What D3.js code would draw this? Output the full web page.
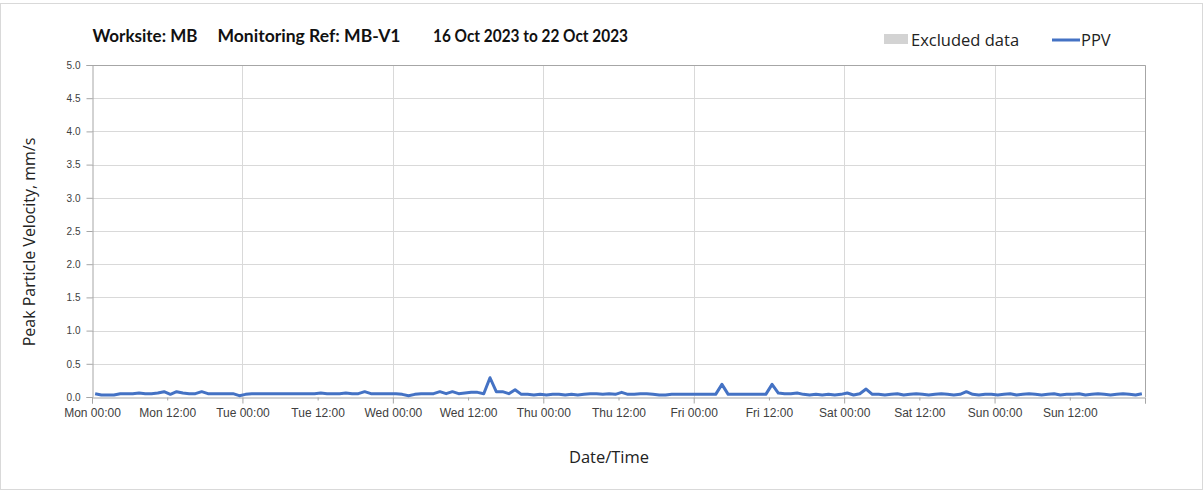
<!DOCTYPE html>
<html>
<head>
<meta charset="utf-8">
<script src="https://cdn.jsdelivr.net/npm/d3@7"></script>
<style>
  body { margin: 0; background: #fff; }
  svg { display: block; font-family: "Open Sans", sans-serif; }
</style>
</head>
<body>
<script>
// hourly PPV readings, stamped at HH:30, Mon 16 Oct 2023 00:30 onwards
let start = new Date(2023, 9, 16, 0, 30)
let ppvMon = [0.05, 0.03, 0.03, 0.03, 0.05, 0.05, 0.05, 0.06, 0.05, 0.05, 0.06, 0.08,
  0.04, 0.08, 0.06, 0.05, 0.05, 0.08, 0.05, 0.05, 0.05, 0.05, 0.05, 0.02]
let ppvTue = [0.04, 0.05, 0.05, 0.05, 0.05, 0.05, 0.05, 0.05, 0.05, 0.05, 0.05, 0.05,
  0.06, 0.05, 0.05, 0.05, 0.06, 0.05, 0.05, 0.08, 0.05, 0.05, 0.05, 0.05]
let ppvWed = [0.05, 0.04, 0.02, 0.04, 0.05, 0.05, 0.05, 0.08, 0.05, 0.08, 0.05, 0.06,
  0.07, 0.07, 0.05, 0.29, 0.08, 0.08, 0.05, 0.11, 0.04, 0.04, 0.03, 0.04]
let ppvThu = [0.03, 0.04, 0.04, 0.03, 0.04, 0.03, 0.04, 0.05, 0.05, 0.04, 0.05, 0.04,
  0.07, 0.04, 0.04, 0.05, 0.05, 0.04, 0.03, 0.03, 0.04, 0.04, 0.04, 0.04]
let ppvFri = [0.04, 0.04, 0.04, 0.04, 0.19, 0.04, 0.04, 0.04, 0.04, 0.04, 0.04, 0.04,
  0.19, 0.06, 0.05, 0.05, 0.06, 0.04, 0.03, 0.04, 0.03, 0.04, 0.03, 0.04]
let ppvSat = [0.06, 0.03, 0.05, 0.12, 0.04, 0.04, 0.03, 0.04, 0.05, 0.03, 0.04, 0.05,
  0.04, 0.03, 0.04, 0.05, 0.04, 0.03, 0.04, 0.08, 0.04, 0.03, 0.04, 0.04]
let ppvSun = [0.03, 0.04, 0.05, 0.03, 0.04, 0.05, 0.04, 0.03, 0.04, 0.05, 0.03, 0.04,
  0.04, 0.05, 0.03, 0.04, 0.05, 0.04, 0.03, 0.04, 0.05, 0.04, 0.03, 0.05]

let yTicks = [0, 0.5, 1, 1.5, 2, 2.5, 3, 3.5, 4, 4.5, 5]
let titleParts = ['Worksite: MB', 'Monitoring Ref: MB-V1', '16 Oct 2023 to 22 Oct 2023']
let legendItems = ['Excluded data', 'PPV']

let ppv = [].concat(ppvMon, ppvTue, ppvWed, ppvThu, ppvFri, ppvSat, ppvSun)
let data = ppv.map((v, i) => ({ t: d3.timeHour.offset(start, i), v }))

let W = 1203, H = 491
let plotL = 92, plotR = 1145, plotT = 65, plotB = 397
let blue = '#4472c4'

let svg = d3.select('body').append('svg').attr('width', W).attr('height', H)

svg.append('rect')
  .attr('x', 0.5).attr('y', 3.5).attr('width', W - 1).attr('height', H - 5)
  .attr('fill', 'none').attr('stroke', '#d9d9d9')

let x = d3.scaleTime()
  .domain([new Date(2023, 9, 16), new Date(2023, 9, 23)])
  .range([plotL, plotR])
let y = d3.scaleLinear().domain([0, 5]).range([plotB, plotT])

let halfDays = d3.timeHour.every(12).range(x.domain()[0], d3.timeHour.offset(x.domain()[1], 1))
let days = d3.timeDay.range(x.domain()[0], d3.timeHour.offset(x.domain()[1], 1))

// gridlines
svg.append('g').selectAll('line').data(yTicks.slice(1)).enter()
  .append('line')
  .attr('x1', plotL).attr('x2', plotR)
  .attr('y1', d => Math.round(y(d)) + 0.5).attr('y2', d => Math.round(y(d)) + 0.5)
  .attr('stroke', '#d9d9d9')
svg.append('g').selectAll('line').data(days.slice(1)).enter()
  .append('line')
  .attr('x1', d => Math.round(x(d)) + 0.5).attr('x2', d => Math.round(x(d)) + 0.5)
  .attr('y1', plotT).attr('y2', plotB)
  .attr('stroke', '#d9d9d9')

// plot frame top/right
svg.append('path')
  .attr('d', `M${plotL},${plotT + 0.5}H${plotR + 0.5}V${plotB}`)
  .attr('fill', 'none').attr('stroke', '#a6a6a6')

// y axis
let yAxis = svg.append('g')
  .attr('transform', `translate(${plotL + 0.5},0)`)
  .call(d3.axisLeft(y).tickValues(yTicks).tickFormat(d3.format('.1f')).tickSize(6).tickPadding(6))
yAxis.select('.domain').attr('stroke', '#a6a6a6')
yAxis.selectAll('.tick line').attr('stroke', '#a6a6a6')
yAxis.selectAll('text').attr('font-size', 10).attr('fill', '#404040')

// x axis
let fmt = d3.timeFormat('%a %H:%M')
let xAxis = svg.append('g')
  .attr('transform', `translate(0,${plotB + 0.5})`)
  .call(d3.axisBottom(x).tickValues(halfDays)
    .tickFormat((d, i) => i < halfDays.length - 1 ? fmt(d) : '')
    .tickSizeOuter(0).tickSize(6).tickPadding(5))
xAxis.select('.domain').attr('stroke', '#a6a6a6')
xAxis.selectAll('.tick line')
  .attr('stroke', '#a6a6a6')
  .attr('y2', d => d.getHours() === 0 ? 6 : 3)
xAxis.selectAll('text').attr('font-size', 12).attr('fill', '#404040')

// PPV line
let line = d3.line().x(d => x(d.t)).y(d => y(d.v))
svg.append('path')
  .datum(data)
  .attr('d', line)
  .attr('fill', 'none')
  .attr('stroke', blue)
  .attr('stroke-width', 3)
  .attr('stroke-linejoin', 'round')

// title, three parts spaced like the original
let titleX = [92.5, 217.5, 433]
let titleW = [105, 183, 195]
svg.append('text')
  .attr('y', 42)
  .attr('font-family', 'Lato, sans-serif')
  .attr('font-weight', 'bold').attr('font-size', 16.5)
  .attr('fill', '#111')
  .selectAll('tspan').data(titleParts).enter()
  .append('tspan')
  .attr('x', (d, i) => titleX[i])
  .attr('textLength', (d, i) => titleW[i])
  .attr('lengthAdjust', 'spacingAndGlyphs')
  .text(d => d)

// legend
let lg = svg.append('g')
lg.append('rect').attr('x', 884).attr('y', 34).attr('width', 24).attr('height', 10).attr('fill', '#d3d3d3')
lg.append('text').attr('x', 911).attr('y', 46).attr('font-size', 16.5).attr('fill', '#222').text(legendItems[0])
lg.append('line').attr('x1', 1052).attr('x2', 1080).attr('y1', 40).attr('y2', 40)
  .attr('stroke', blue).attr('stroke-width', 3)
lg.append('text').attr('x', 1081).attr('y', 46).attr('font-size', 16.5).attr('fill', '#222').text(legendItems[1])

// axis titles
svg.append('text')
  .attr('transform', `translate(35,${(plotT + plotB) / 2 + 11}) rotate(-90)`)
  .attr('text-anchor', 'middle').attr('font-size', 16).attr('fill', '#222')
  .text('Peak Particle Velocity, mm/s')
svg.append('text')
  .attr('x', 609).attr('y', 463)
  .attr('text-anchor', 'middle').attr('font-size', 16.5).attr('fill', '#222')
  .text('Date/Time')
</script>
</body>
</html>
